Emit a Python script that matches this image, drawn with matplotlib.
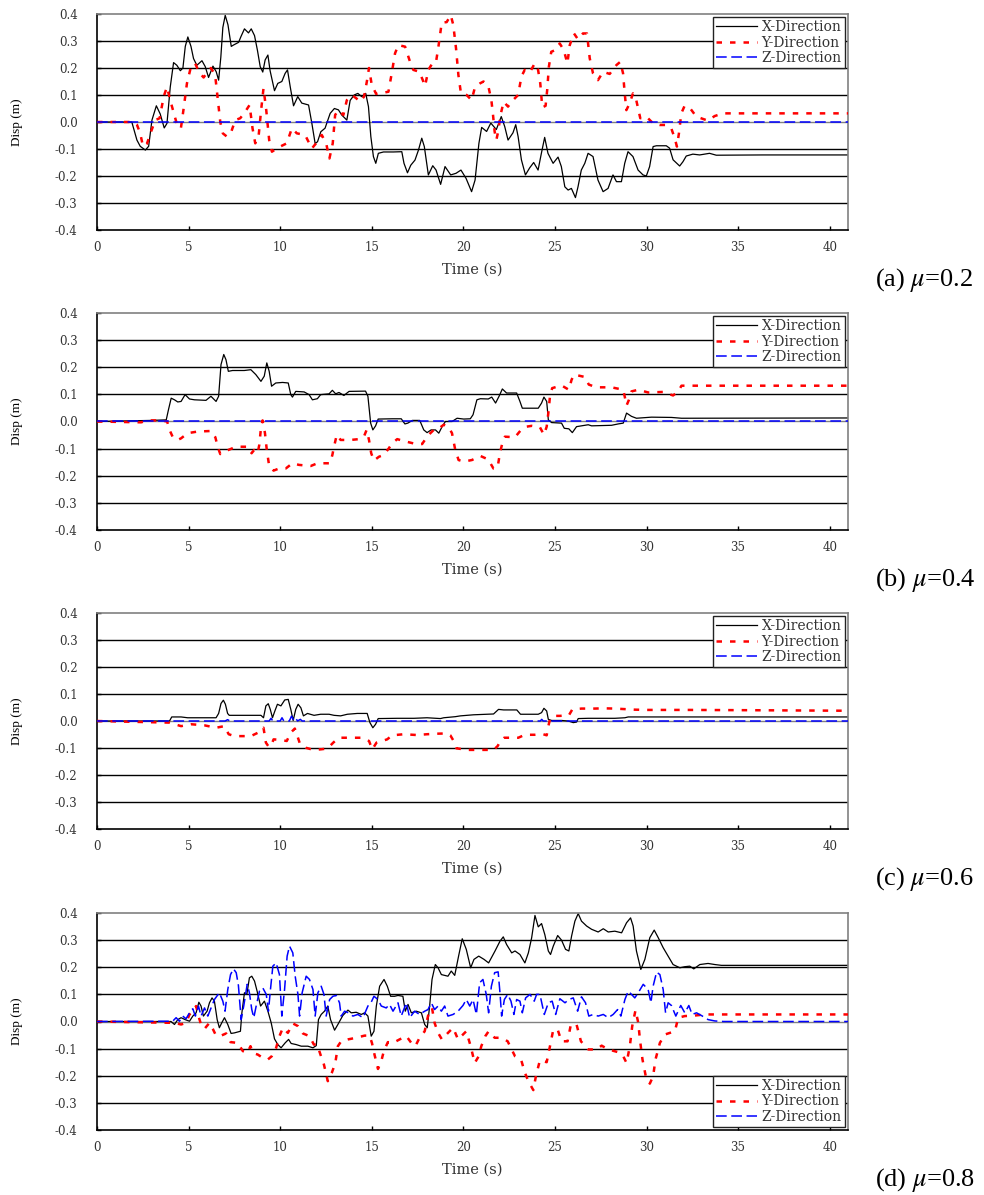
import matplotlib
matplotlib.use("Agg")
import matplotlib.pyplot as plt
import numpy as np

plt.rcParams["mathtext.fontset"] = "stix"
plt.rcParams["axes.unicode_minus"] = False

# ---- data: (time [s], displacement [m]) ----
a_x = [(0, 0), (1.9, 0), (2.18, -0.067), (2.36, -0.09), (2.64, -0.104), (2.82, -0.09), (3.0, 0.007),
       (3.24, 0.06), (3.45, 0.03), (3.67, -0.022), (3.82, -0.005), (4.0, 0.13), (4.18, 0.22), (4.36, 0.21),
       (4.55, 0.19), (4.69, 0.2), (4.82, 0.28), (4.96, 0.315), (5.13, 0.28), (5.27, 0.235), (5.45, 0.21),
       (5.73, 0.227), (5.91, 0.205), (6.09, 0.165), (6.33, 0.207), (6.51, 0.186), (6.64, 0.155), (6.76, 0.24),
       (6.87, 0.35), (7.0, 0.395), (7.15, 0.36), (7.33, 0.28), (7.45, 0.285), (7.73, 0.295), (7.85, 0.315),
       (8.05, 0.345), (8.27, 0.33), (8.42, 0.345), (8.6, 0.32), (8.76, 0.265), (8.91, 0.205), (9.05, 0.185),
       (9.18, 0.23), (9.33, 0.248), (9.45, 0.19), (9.6, 0.143), (9.69, 0.116), (9.87, 0.143), (10.09, 0.15),
       (10.27, 0.18), (10.4, 0.193), (10.55, 0.13), (10.73, 0.06), (10.96, 0.094), (11.18, 0.07), (11.55, 0.063),
       (11.73, -0.005), (11.91, -0.08), (12.04, -0.073), (12.22, -0.036), (12.45, -0.023), (12.73, 0.032),
       (12.96, 0.05), (13.18, 0.045), (13.36, 0.026), (13.64, 0.007), (13.82, 0.08), (14.04, 0.1), (14.24, 0.106),
       (14.45, 0.094), (14.67, 0.106), (14.82, 0.057), (14.95, -0.054), (15.09, -0.128), (15.22, -0.153),
       (15.36, -0.116), (15.64, -0.111), (16.18, -0.111), (16.64, -0.11), (16.76, -0.153), (16.95, -0.188),
       (17.13, -0.16), (17.36, -0.141), (17.55, -0.104), (17.73, -0.06), (17.87, -0.091), (18.09, -0.196),
       (18.33, -0.162), (18.51, -0.178), (18.76, -0.231), (19.0, -0.165), (19.31, -0.196), (19.6, -0.19),
       (19.87, -0.178), (20.15, -0.209), (20.45, -0.258), (20.64, -0.215), (20.85, -0.079), (21.0, -0.02),
       (21.27, -0.035), (21.5, -0.004), (21.8, -0.028), (22.07, 0.02), (22.26, -0.017), (22.44, -0.067),
       (22.71, -0.04), (22.86, -0.01), (22.99, -0.054), (23.17, -0.14), (23.39, -0.196), (23.62, -0.17),
       (23.84, -0.15), (24.08, -0.178), (24.26, -0.116), (24.44, -0.057), (24.62, -0.116), (24.9, -0.153),
       (25.17, -0.13), (25.35, -0.165), (25.54, -0.24), (25.72, -0.252), (25.9, -0.246), (26.12, -0.28),
       (26.26, -0.24), (26.44, -0.178), (26.63, -0.153), (26.81, -0.116), (27.08, -0.128), (27.35, -0.215),
       (27.63, -0.258), (27.9, -0.246), (28.17, -0.196), (28.36, -0.221), (28.63, -0.221), (28.81, -0.153),
       (28.99, -0.11), (29.26, -0.128), (29.54, -0.178), (29.81, -0.196), (29.99, -0.2), (30.17, -0.165),
       (30.36, -0.091), (30.54, -0.088), (31.08, -0.088), (31.26, -0.097), (31.45, -0.14), (31.81, -0.163),
       (31.99, -0.147), (32.17, -0.126), (32.53, -0.119), (32.9, -0.122), (33.44, -0.116), (33.81, -0.123),
       (36.35, -0.122), (41.0, -0.122)]
a_y = [(0, 0), (2.0, 0), (2.18, -0.01), (2.36, -0.042), (2.51, -0.09), (2.73, -0.08), (2.95, -0.036),
       (3.18, 0.007), (3.42, 0.014), (3.64, 0.094), (3.82, 0.13), (4.0, 0.08), (4.22, 0.026), (4.4, -0.017),
       (4.58, -0.023), (4.73, 0.05), (4.91, 0.143), (5.13, 0.205), (5.36, 0.217), (5.58, 0.183), (5.82, 0.165),
       (6.04, 0.186), (6.22, 0.2), (6.45, 0.174), (6.58, 0.094), (6.73, 0.0), (6.87, -0.042), (7.09, -0.054),
       (7.33, -0.036), (7.55, 0.007), (7.82, 0.014), (8.09, 0.038), (8.33, 0.063), (8.49, -0.023), (8.64, -0.079),
       (8.82, -0.054), (8.96, 0.044), (9.09, 0.125), (9.24, 0.044), (9.4, -0.067), (9.55, -0.11), (9.91, -0.094),
       (10.36, -0.079), (10.64, -0.023), (10.91, -0.042), (11.36, -0.048), (11.73, -0.098), (11.96, -0.079),
       (12.27, -0.048), (12.51, -0.079), (12.69, -0.135), (12.87, -0.079), (13.0, 0.026), (13.18, 0.044),
       (13.45, 0.026), (13.64, 0.081), (13.91, 0.1), (14.15, 0.088), (14.36, 0.075), (14.58, 0.094),
       (14.73, 0.149), (14.85, 0.2), (15.0, 0.137), (15.24, 0.104), (15.64, 0.109), (15.91, 0.112), (16.09, 0.18),
       (16.27, 0.254), (16.45, 0.285), (16.82, 0.279), (17.09, 0.223), (17.27, 0.193), (17.6, 0.186),
       (17.78, 0.156), (17.91, 0.133), (18.09, 0.193), (18.36, 0.223), (18.51, 0.223), (18.64, 0.279),
       (18.82, 0.368), (19.09, 0.37), (19.31, 0.396), (19.45, 0.36), (19.6, 0.273), (19.73, 0.174),
       (19.87, 0.106), (20.18, 0.1), (20.45, 0.081), (20.64, 0.13), (20.91, 0.143), (21.1, 0.15), (21.35, 0.137),
       (21.53, 0.081), (21.62, 0.026), (21.71, -0.036), (21.8, -0.067), (21.9, -0.036), (22.03, 0.026),
       (22.2, 0.075), (22.44, 0.057), (22.71, 0.081), (22.99, 0.1), (23.17, 0.168), (23.35, 0.193),
       (23.62, 0.183), (23.9, 0.217), (24.08, 0.193), (24.2, 0.143), (24.31, 0.054), (24.49, 0.06), (24.58, 0.12),
       (24.67, 0.205), (24.8, 0.26), (25.04, 0.267), (25.26, 0.291), (25.48, 0.267), (25.68, 0.217),
       (25.81, 0.285), (26.04, 0.328), (26.26, 0.306), (26.53, 0.328), (26.75, 0.328), (26.9, 0.236),
       (27.08, 0.18), (27.35, 0.155), (27.63, 0.186), (27.99, 0.178), (28.36, 0.211), (28.57, 0.223),
       (28.72, 0.18), (28.81, 0.106), (28.9, 0.044), (29.08, 0.069), (29.26, 0.106), (29.44, 0.081),
       (29.66, 0.014), (29.99, 0.02), (30.36, -0.005), (30.72, -0.011), (31.08, -0.011), (31.35, -0.023),
       (31.54, -0.06), (31.66, -0.091), (31.77, -0.042), (31.9, 0.032), (32.08, 0.06), (32.39, 0.05),
       (32.72, 0.02), (33.35, 0.005), (33.72, 0.022), (34.17, 0.032), (41.0, 0.032)]
a_z = [(0, 0), (41.0, 0)]

b_x = [(0, 0), (2.96, 0.004), (3.78, 0.006), (3.9, 0.043), (4.05, 0.086), (4.23, 0.08), (4.41, 0.072),
       (4.59, 0.074), (4.81, 0.099), (5.05, 0.083), (5.32, 0.08), (5.95, 0.078), (6.22, 0.093), (6.5, 0.074),
       (6.64, 0.093), (6.77, 0.21), (6.92, 0.247), (7.04, 0.228), (7.17, 0.185), (7.4, 0.188), (8.04, 0.188),
       (8.4, 0.191), (8.67, 0.173), (8.95, 0.148), (9.13, 0.167), (9.27, 0.216), (9.4, 0.185), (9.53, 0.13),
       (9.76, 0.142), (10.13, 0.144), (10.44, 0.142), (10.58, 0.099), (10.67, 0.09), (10.85, 0.111),
       (11.31, 0.109), (11.58, 0.099), (11.76, 0.08), (12.03, 0.084), (12.21, 0.099), (12.67, 0.102),
       (12.85, 0.115), (13.03, 0.102), (13.21, 0.107), (13.48, 0.096), (13.76, 0.111), (14.66, 0.112),
       (14.79, 0.093), (14.94, -0.006), (15.06, -0.031), (15.21, -0.016), (15.35, 0.009), (16.12, 0.01),
       (16.61, 0.01), (16.81, -0.009), (16.97, -0.006), (17.21, 0.004), (17.62, 0.004), (17.84, -0.031),
       (18.02, -0.041), (18.24, -0.031), (18.48, -0.031), (18.66, -0.043), (18.84, -0.019), (19.02, 0.0),
       (19.38, 0.0), (19.66, 0.012), (20.02, 0.009), (20.38, 0.01), (20.53, 0.025), (20.74, 0.08), (20.93, 0.084),
       (21.36, 0.083), (21.55, 0.09), (21.76, 0.068), (21.95, 0.093), (22.13, 0.12), (22.36, 0.105),
       (22.91, 0.105), (23.09, 0.074), (23.22, 0.049), (24.09, 0.049), (24.27, 0.068), (24.4, 0.09),
       (24.55, 0.074), (24.64, 0.006), (24.82, -0.004), (25.36, -0.006), (25.51, -0.025), (25.76, -0.027),
       (25.95, -0.041), (26.18, -0.019), (26.45, -0.016), (26.82, -0.012), (27.0, -0.016), (28.09, -0.014),
       (28.45, -0.009), (28.73, -0.006), (28.91, 0.031), (29.18, 0.019), (29.45, 0.012), (30.27, 0.016),
       (31.36, 0.015), (31.91, 0.012), (41.0, 0.013)]
b_y = [(0, 0), (2.41, -0.003), (2.78, 0.004), (3.5, 0.004), (3.83, 0.0), (3.96, -0.031), (4.14, -0.058),
       (4.41, -0.068), (4.59, -0.062), (4.95, -0.043), (5.5, -0.037), (6.22, -0.035), (6.46, -0.058),
       (6.59, -0.093), (6.73, -0.12), (6.95, -0.111), (7.17, -0.105), (7.59, -0.093), (8.22, -0.093),
       (8.44, -0.117), (8.58, -0.105), (8.77, -0.117), (8.86, -0.086), (8.95, -0.025), (9.04, 0.004),
       (9.17, -0.043), (9.27, -0.105), (9.4, -0.164), (9.64, -0.181), (9.95, -0.173), (10.31, -0.173),
       (10.67, -0.154), (11.03, -0.16), (11.67, -0.164), (12.03, -0.154), (12.72, -0.154), (12.85, -0.123),
       (12.94, -0.093), (13.09, -0.049), (13.3, -0.068), (13.85, -0.068), (14.3, -0.065), (14.57, -0.056),
       (14.72, -0.031), (14.85, -0.068), (14.97, -0.117), (15.12, -0.144), (15.39, -0.13), (15.66, -0.123),
       (15.93, -0.099), (16.12, -0.08), (16.39, -0.065), (16.75, -0.072), (17.11, -0.078), (17.48, -0.084),
       (17.75, -0.083), (17.93, -0.065), (18.2, -0.043), (18.48, -0.025), (18.75, -0.021), (18.93, -0.012),
       (19.2, -0.021), (19.38, -0.043), (19.56, -0.105), (19.74, -0.142), (20.02, -0.148), (20.47, -0.142),
       (20.93, -0.127), (21.36, -0.14), (21.64, -0.173), (21.87, -0.17), (22.0, -0.115), (22.13, -0.08),
       (22.27, -0.056), (22.82, -0.058), (23.15, -0.031), (23.45, -0.019), (23.73, -0.016), (24.18, -0.021),
       (24.4, -0.049), (24.55, -0.019), (24.64, 0.031), (24.73, 0.093), (24.85, 0.123), (25.36, 0.133),
       (25.76, 0.117), (25.91, 0.154), (26.05, 0.173), (26.64, 0.164), (26.85, 0.136), (27.27, 0.126),
       (28.09, 0.126), (28.73, 0.117), (28.82, 0.089), (28.91, 0.059), (29.04, 0.08), (29.18, 0.111),
       (29.55, 0.117), (30.09, 0.107), (30.91, 0.109), (31.45, 0.096), (31.73, 0.111), (31.91, 0.132),
       (32.64, 0.132), (41.0, 0.132)]
b_z = [(0, 0), (41.0, 0)]

c_x = [(0, 0), (3.96, 0.0), (4.08, 0.015), (4.59, 0.015), (4.95, 0.012), (6.5, 0.012), (6.64, 0.028),
       (6.77, 0.065), (6.9, 0.077), (7.01, 0.062), (7.13, 0.028), (7.22, 0.021), (8.95, 0.021), (9.09, 0.012),
       (9.22, 0.056), (9.35, 0.064), (9.46, 0.043), (9.58, 0.012), (9.71, 0.037), (9.85, 0.062), (10.04, 0.056),
       (10.25, 0.078), (10.44, 0.08), (10.58, 0.043), (10.71, 0.002), (10.85, 0.043), (10.98, 0.062),
       (11.13, 0.049), (11.27, 0.019), (11.49, 0.028), (11.85, 0.021), (12.21, 0.025), (12.67, 0.025),
       (12.94, 0.021), (13.3, 0.019), (13.67, 0.025), (14.21, 0.028), (14.75, 0.028), (14.9, -0.006),
       (15.06, -0.025), (15.21, -0.012), (15.35, 0.009), (16.39, 0.01), (17.3, 0.01), (18.02, 0.012),
       (18.75, 0.009), (18.93, 0.012), (19.56, 0.016), (19.84, 0.019), (20.56, 0.023), (21.65, 0.026),
       (21.92, 0.043), (22.2, 0.041), (22.92, 0.041), (23.12, 0.025), (24.09, 0.025), (24.27, 0.031),
       (24.4, 0.047), (24.55, 0.037), (24.64, 0.006), (24.82, 0.002), (25.36, 0.002), (25.73, 0.0),
       (26.0, -0.006), (26.18, -0.004), (26.27, 0.009), (26.82, 0.01), (28.27, 0.01), (28.82, 0.012),
       (29.0, 0.015), (41.0, 0.015)]
c_y = [(0, 0), (3.96, -0.006), (4.59, -0.019), (5.14, -0.012), (5.86, -0.016), (6.5, -0.025), (6.95, -0.019),
       (7.19, -0.049), (7.5, -0.056), (8.4, -0.056), (8.86, -0.041), (9.09, -0.025), (9.22, -0.08),
       (9.35, -0.093), (9.49, -0.095), (9.64, -0.068), (10.0, -0.07), (10.36, -0.074), (10.58, -0.043),
       (10.8, -0.028), (10.94, -0.056), (11.09, -0.086), (11.4, -0.099), (11.81, -0.107), (12.21, -0.105),
       (12.58, -0.102), (12.9, -0.08), (13.21, -0.062), (14.48, -0.062), (14.85, -0.074), (15.03, -0.105),
       (15.26, -0.08), (15.57, -0.074), (15.84, -0.068), (16.12, -0.053), (16.75, -0.049), (17.48, -0.052),
       (18.02, -0.049), (18.57, -0.047), (19.11, -0.046), (19.29, -0.053), (19.47, -0.074), (19.62, -0.101),
       (20.2, -0.107), (21.65, -0.107), (21.87, -0.093), (22.03, -0.074), (22.23, -0.062), (23.0, -0.062),
       (23.36, -0.051), (23.91, -0.051), (24.36, -0.049), (24.55, -0.053), (24.64, -0.019), (24.73, 0.006),
       (25.0, 0.019), (25.27, 0.019), (25.76, 0.021), (25.95, 0.043), (26.45, 0.046), (27.18, 0.046),
       (27.64, 0.047), (28.27, 0.046), (29.36, 0.042), (30.09, 0.041), (32.27, 0.041), (35.55, 0.04),
       (41.0, 0.038)]
c_z = [(0, 0), (7.0, 0), (7.13, 0.005), (7.25, 0), (9.4, 0), (9.5, 0.01), (9.6, 0), (10.0, 0), (10.1, 0.012),
       (10.2, 0), (10.5, 0), (10.62, 0.018), (10.75, 0.002), (10.85, 0.01), (10.95, 0), (11.1, 0.006),
       (11.2, 0), (18.0, 0), (18.1, 0.006), (18.2, 0), (24.2, 0), (24.28, 0.006), (24.36, 0), (41.0, 0)]

d_x = [(0, 0), (4.04, 0.0), (4.23, -0.011), (4.41, 0.007), (4.59, 0.014), (4.81, 0.007), (5.05, 0.001),
       (5.23, 0.02), (5.41, 0.032), (5.56, 0.071), (5.68, 0.057), (5.81, 0.02), (6.01, 0.038), (6.14, 0.069),
       (6.28, 0.087), (6.41, 0.075), (6.56, 0.007), (6.68, -0.023), (6.81, -0.005), (6.96, 0.014),
       (7.14, -0.011), (7.32, -0.044), (7.5, -0.042), (7.83, -0.036), (7.91, 0.032), (8.05, 0.106), (8.18, 0.1),
       (8.32, 0.161), (8.45, 0.167), (8.6, 0.149), (8.74, 0.112), (8.93, 0.057), (9.14, 0.075), (9.33, 0.038),
       (9.51, -0.005), (9.69, -0.064), (9.87, -0.085), (10.05, -0.097), (10.27, -0.079), (10.46, -0.066),
       (10.6, -0.081), (10.87, -0.085), (11.15, -0.091), (11.51, -0.091), (11.79, -0.097), (11.97, -0.089),
       (12.09, 0.007), (12.24, 0.026), (12.42, 0.038), (12.6, 0.057), (12.75, 0.007), (12.97, -0.032),
       (13.15, -0.011), (13.42, 0.022), (13.7, 0.042), (13.88, 0.032), (14.15, 0.034), (14.43, 0.026),
       (14.61, 0.032), (14.79, 0.02), (14.97, -0.054), (15.12, -0.036), (15.25, 0.057), (15.43, 0.13),
       (15.67, 0.155), (15.85, 0.13), (16.03, 0.093), (16.25, 0.093), (16.43, 0.096), (16.7, 0.093),
       (16.83, 0.038), (16.98, 0.063), (17.16, 0.032), (17.43, 0.038), (17.71, 0.032), (17.89, -0.011),
       (18.03, -0.023), (18.16, 0.057), (18.29, 0.155), (18.47, 0.21), (18.62, 0.198), (18.8, 0.173),
       (19.16, 0.167), (19.34, 0.186), (19.53, 0.17), (19.74, 0.241), (19.94, 0.305), (20.16, 0.266),
       (20.4, 0.198), (20.58, 0.229), (20.84, 0.241), (21.13, 0.229), (21.38, 0.216), (21.73, 0.26),
       (22.0, 0.296), (22.18, 0.312), (22.36, 0.284), (22.64, 0.253), (22.82, 0.26), (23.09, 0.247),
       (23.36, 0.216), (23.55, 0.253), (23.73, 0.309), (23.91, 0.391), (24.09, 0.349), (24.27, 0.361),
       (24.45, 0.32), (24.64, 0.26), (24.76, 0.247), (24.91, 0.278), (25.15, 0.317), (25.36, 0.3),
       (25.58, 0.266), (25.76, 0.26), (25.91, 0.315), (26.09, 0.37), (26.27, 0.398), (26.45, 0.37),
       (26.73, 0.352), (27.0, 0.34), (27.36, 0.33), (27.64, 0.342), (27.91, 0.33), (28.27, 0.333),
       (28.64, 0.327), (28.91, 0.364), (29.13, 0.382), (29.27, 0.352), (29.45, 0.26), (29.69, 0.192),
       (29.91, 0.229), (30.18, 0.309), (30.42, 0.337), (30.64, 0.309), (30.91, 0.272), (31.18, 0.241),
       (31.45, 0.21), (31.82, 0.198), (32.09, 0.202), (32.36, 0.204), (32.58, 0.194), (32.91, 0.21),
       (33.36, 0.214), (33.73, 0.21), (34.09, 0.207), (41.0, 0.207)]
d_y = [(0, 0), (4.23, -0.005), (4.59, -0.011), (4.86, -0.005), (5.05, 0.026), (5.23, 0.038), (5.41, 0.057),
       (5.54, 0.02), (5.68, -0.011), (5.87, -0.027), (6.14, -0.005), (6.32, -0.027), (6.5, -0.052),
       (6.78, -0.052), (7.05, -0.044), (7.29, -0.076), (7.69, -0.079), (7.96, -0.109), (8.2, -0.116),
       (8.38, -0.091), (8.51, -0.116), (8.78, -0.122), (9.05, -0.134), (9.33, -0.14), (9.54, -0.128),
       (9.78, -0.097), (9.96, -0.054), (10.15, -0.023), (10.42, -0.042), (10.69, -0.007), (10.97, -0.017),
       (11.24, -0.044), (11.6, -0.054), (11.84, -0.085), (12.02, -0.085), (12.2, -0.122), (12.39, -0.159),
       (12.6, -0.22), (12.82, -0.189), (13.01, -0.153), (13.15, -0.091), (13.33, -0.073), (13.7, -0.066),
       (14.15, -0.06), (14.61, -0.052), (14.88, -0.052), (15.01, -0.079), (15.15, -0.122), (15.34, -0.175),
       (15.52, -0.146), (15.66, -0.109), (15.88, -0.076), (16.16, -0.079), (16.52, -0.066), (16.89, -0.054),
       (17.16, -0.079), (17.38, -0.091), (17.61, -0.06), (17.89, -0.036), (18.11, 0.032), (18.29, 0.05),
       (18.43, -0.005), (18.62, -0.042), (18.83, -0.066), (19.16, -0.042), (19.44, -0.023), (19.71, -0.066),
       (19.98, -0.048), (20.16, -0.036), (20.4, -0.091), (20.62, -0.153), (20.84, -0.128), (20.98, -0.091),
       (21.2, -0.054), (21.38, -0.036), (21.71, -0.06), (22.09, -0.06), (22.42, -0.073), (22.82, -0.128),
       (23.15, -0.14), (23.36, -0.189), (23.55, -0.22), (23.82, -0.253), (23.96, -0.202), (24.18, -0.143),
       (24.55, -0.15), (24.73, -0.091), (24.91, -0.03), (25.15, -0.03), (25.36, -0.073), (25.69, -0.073),
       (25.87, -0.011), (26.18, -0.011), (26.42, -0.073), (26.82, -0.103), (27.27, -0.103), (27.55, -0.089),
       (27.91, -0.103), (28.45, -0.113), (28.73, -0.128), (28.91, -0.153), (29.09, -0.091), (29.22, -0.017),
       (29.4, 0.042), (29.55, -0.005), (29.64, -0.066), (29.78, -0.14), (29.96, -0.202), (30.18, -0.229),
       (30.36, -0.202), (30.49, -0.14), (30.73, -0.079), (31.0, -0.048), (31.55, -0.036), (31.73, 0.014),
       (32.09, 0.02), (32.64, 0.022), (33.18, 0.026), (41.0, 0.026)]
d_z = [(0, 0), (4.13, 0.001), (4.32, 0.014), (4.5, 0.001), (4.68, 0.02), (4.86, 0.01), (5.1, 0.038),
       (5.23, 0.047), (5.37, 0.02), (5.54, 0.057), (5.68, 0.02), (5.87, 0.05), (6.05, 0.02), (6.23, 0.05),
       (6.41, 0.081), (6.68, 0.106), (6.87, 0.075), (6.99, 0.038), (7.14, 0.118), (7.29, 0.173), (7.45, 0.194),
       (7.6, 0.18), (7.72, 0.133), (7.87, 0.007), (8.01, 0.057), (8.2, 0.137), (8.32, 0.106), (8.45, 0.044),
       (8.56, 0.014), (8.69, 0.057), (8.87, 0.112), (9.05, 0.124), (9.24, 0.1), (9.36, 0.038), (9.47, 0.118),
       (9.6, 0.204), (9.78, 0.216), (9.96, 0.173), (10.09, 0.02), (10.24, 0.118), (10.38, 0.241),
       (10.51, 0.278), (10.69, 0.253), (10.82, 0.167), (10.97, 0.1), (11.06, 0.02), (11.2, 0.106),
       (11.42, 0.167), (11.6, 0.155), (11.79, 0.118), (11.91, 0.02), (12.06, 0.106), (12.24, 0.13),
       (12.39, 0.1), (12.51, 0.02), (12.7, 0.081), (12.88, 0.093), (13.06, 0.096), (13.24, 0.069),
       (13.33, 0.02), (13.52, 0.038), (13.73, 0.032), (13.97, 0.02), (14.24, 0.026), (14.52, 0.014),
       (14.79, 0.057), (14.97, 0.071), (15.12, 0.093), (15.34, 0.081), (15.52, 0.057), (15.79, 0.05),
       (15.97, 0.063), (16.16, 0.038), (16.43, 0.069), (16.61, 0.02), (16.89, 0.069), (17.07, 0.014),
       (17.34, 0.038), (17.61, 0.026), (17.89, 0.038), (18.07, 0.044), (18.25, 0.069), (18.43, 0.044),
       (18.62, 0.057), (18.8, 0.038), (18.98, 0.057), (19.16, 0.02), (19.44, 0.026), (19.71, 0.038),
       (19.98, 0.059), (20.16, 0.081), (20.35, 0.057), (20.53, 0.081), (20.71, 0.026), (20.89, 0.143),
       (21.07, 0.155), (21.25, 0.1), (21.38, 0.032), (21.53, 0.13), (21.71, 0.18), (21.9, 0.183),
       (22.0, 0.106), (22.09, 0.02), (22.24, 0.081), (22.42, 0.1), (22.6, 0.075), (22.76, 0.026),
       (22.91, 0.081), (23.09, 0.075), (23.22, 0.032), (23.4, 0.087), (23.64, 0.1), (23.87, 0.075),
       (24.0, 0.1), (24.18, 0.1), (24.42, 0.026), (24.64, 0.069), (24.85, 0.075), (25.04, 0.026),
       (25.27, 0.084), (25.55, 0.069), (25.76, 0.081), (26.0, 0.087), (26.24, 0.038), (26.45, 0.091),
       (26.67, 0.069), (26.85, 0.02), (27.09, 0.026), (27.36, 0.02), (27.64, 0.026), (27.91, 0.014),
       (28.18, 0.026), (28.42, 0.044), (28.6, 0.02), (28.82, 0.081), (29.0, 0.112), (29.18, 0.1),
       (29.36, 0.087), (29.55, 0.106), (29.82, 0.137), (30.09, 0.118), (30.24, 0.069), (30.36, 0.13),
       (30.55, 0.182), (30.73, 0.173), (30.91, 0.118), (31.04, 0.032), (31.18, 0.069), (31.36, 0.059),
       (31.6, 0.02), (31.87, 0.059), (32.09, 0.032), (32.31, 0.059), (32.49, 0.026), (32.73, 0.032),
       (33.0, 0.022), (33.36, 0.007), (33.73, 0.002), (34.2, 0.0), (41.0, 0.0)]

panel_labels = ["(a) $\\mu$=0.2", "(b) $\\mu$=0.4", "(c) $\\mu$=0.6", "(d) $\\mu$=0.8"]
series_names = ["X-Direction", "Y-Direction", "Z-Direction"]
x_ticks = [0, 5, 10, 15, 20, 25, 30, 35, 40]
y_ticks = [-0.4, -0.3, -0.2, -0.1, 0.0, 0.1, 0.2, 0.3, 0.4]

panels = [(a_x, a_y, a_z), (b_x, b_y, b_z), (c_x, c_y, c_z), (d_x, d_y, d_z)]
legend_loc = ["upper right", "upper right", "upper right", "lower right"]

# axes boxes in pixels (top, bottom) on a 984 x 1195 canvas
W, H = 984, 1195
boxes = [(14, 230), (313, 530), (613, 829), (913, 1130)]
left, right = 97, 848

serif = "DejaVu Serif"
text_grey = "#333333"

fig = plt.figure(figsize=(W / 100, H / 100), dpi=100)

for i, (sx, sy, sz) in enumerate(panels):
    top, bot = boxes[i]
    ax = fig.add_axes([left / W, 1 - bot / H, (right - left) / W, (bot - top) / H])

    for v in y_ticks[1:-1]:
        ax.axhline(v, color="#808080" if v == 0 else "black", lw=1.0, zorder=0.5)

    tx, vx = np.array(sx).T
    ty, vy = np.array(sy).T
    tz, vz = np.array(sz).T
    ax.plot(tx, vx, color="black", lw=0.9, label=series_names[0], zorder=2)
    ax.plot(ty, vy, color="#ff0000", lw=1.8, dashes=(2.2, 3.2), label=series_names[1], zorder=3)
    ax.plot(tz, vz, color="#0000ff", lw=1.1, dashes=(7, 3), label=series_names[2], zorder=4)

    ax.set_xlim(0, 41)
    ax.set_ylim(-0.4, 0.4)
    ax.set_xticks(x_ticks)
    ax.set_xticklabels([str(t) for t in x_ticks], family=serif, fontsize=8.5, color=text_grey)
    ax.set_yticks(y_ticks)
    ax.set_yticklabels([f"{v:.1f}" for v in y_ticks], family=serif, fontsize=8.5, color=text_grey)
    ax.tick_params(axis="x", direction="in", length=3, width=1, pad=8)
    ax.tick_params(axis="y", direction="in", length=3, width=1, pad=14)

    for side in ("left", "bottom"):
        ax.spines[side].set_color("black")
        ax.spines[side].set_linewidth(1.2)
    for side in ("top", "right"):
        ax.spines[side].set_color("#808080")
        ax.spines[side].set_linewidth(1.2)

    ax.set_xlabel("Time (s)", family=serif, fontsize=10.5, labelpad=6, color=text_grey)
    ax.set_ylabel("Disp (m)", family="Liberation Serif", fontsize=9.5)
    ax.yaxis.set_label_coords(-0.099, 0.5)

    leg = ax.legend(loc=legend_loc[i], prop={"family": serif, "size": 10}, frameon=True,
                    fancybox=False, framealpha=1, edgecolor="#222222", borderaxespad=0.25,
                    handlelength=3.0, labelspacing=0.1, borderpad=0.2, handletextpad=0.3)
    leg.get_frame().set_linewidth(1.0)
    for txt in leg.get_texts():
        txt.set_color(text_grey)

    fig.text(875 / W, 1 - (bot + 50) / H, panel_labels[i], family="Liberation Serif",
             fontsize=19, ha="left", va="center")

fig.savefig("out.png", dpi=100)
